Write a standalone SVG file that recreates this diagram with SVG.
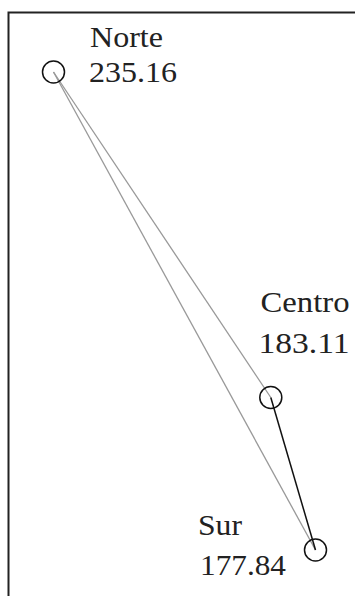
<svg xmlns="http://www.w3.org/2000/svg" width="355" height="596" viewBox="0 0 355 596">
<style>
.lbl{font-family:"Liberation Serif","Times New Roman",serif;font-size:30px;fill:#222}
.node{fill:none;stroke:#111;stroke-width:1.5}
.edge-gray{stroke:#999;stroke-width:1.3;fill:none}
.edge-black{stroke:#111;stroke-width:1.5;fill:none}
</style>
<rect x="0" y="0" width="355" height="596" fill="#fff"/>
<path d="M8.5 596 V12.5 H355" fill="none" stroke="#222" stroke-width="2"/>
<g id="connectors">
<line class="edge-gray" x1="53.5" y1="72" x2="270.8" y2="397.5"/>
<line class="edge-gray" x1="53.5" y1="72" x2="315.5" y2="550"/>
<line class="edge-black" x1="270.8" y1="397.5" x2="315.5" y2="550"/>
</g>
<g id="norte">
<circle class="node" cx="53.5" cy="72" r="11"/>
<text class="lbl" x="90" y="46.5" textLength="73" lengthAdjust="spacingAndGlyphs">Norte</text>
<text class="lbl" x="89" y="81.5" textLength="88" lengthAdjust="spacingAndGlyphs">235.16</text>
</g>
<g id="centro">
<circle class="node" cx="270.8" cy="397.5" r="11"/>
<text class="lbl" x="260.5" y="311.5" textLength="89" lengthAdjust="spacingAndGlyphs">Centro</text>
<text class="lbl" x="258.5" y="352.5" textLength="91" lengthAdjust="spacingAndGlyphs">183.11</text>
</g>
<g id="sur">
<circle class="node" cx="315.5" cy="550" r="11"/>
<text class="lbl" x="198" y="535" textLength="44" lengthAdjust="spacingAndGlyphs">Sur</text>
<text class="lbl" x="200" y="575" textLength="86" lengthAdjust="spacingAndGlyphs">177.84</text>
</g>
</svg>
